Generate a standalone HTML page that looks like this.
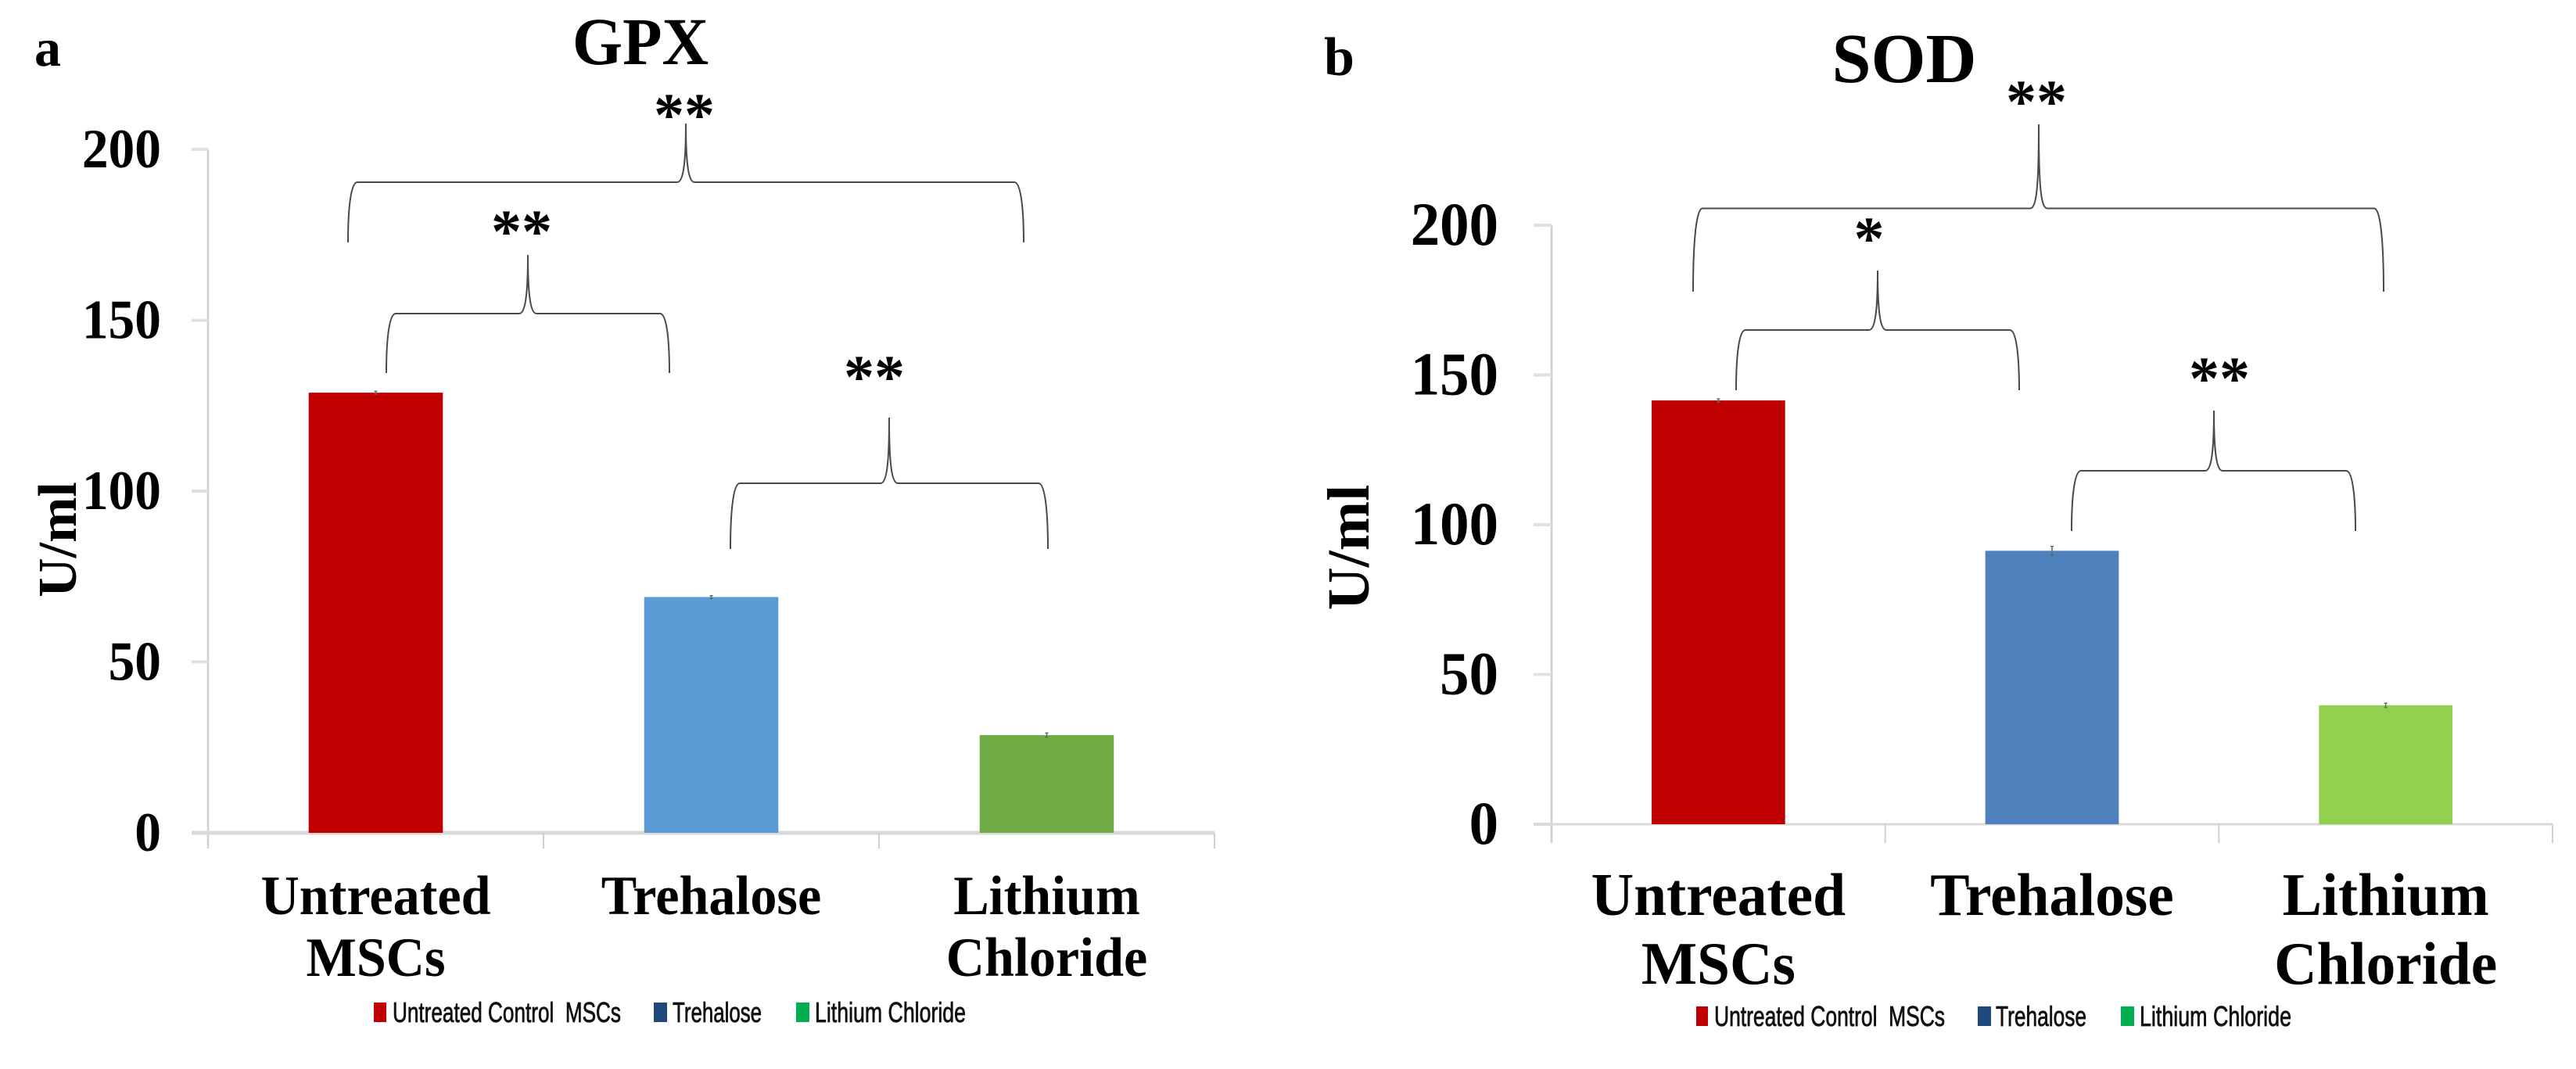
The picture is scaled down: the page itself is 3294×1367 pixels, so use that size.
<!DOCTYPE html>
<html lang="en">
<head>
<meta charset="utf-8">
<title>GPX and SOD activity</title>
<style>
html,body{margin:0;padding:0;background:#fff;}
svg{display:block;}
text{font-family:"Liberation Serif",serif;font-weight:bold;fill:#000;}
.lg{font-family:"Liberation Sans",sans-serif;font-weight:normal;font-size:36px;fill:#111;stroke:#111;stroke-width:.8px;white-space:pre;}
</style>
</head>
<body>
<svg id="figure" xmlns="http://www.w3.org/2000/svg" width="3294" height="1367" viewBox="0 0 3294 1367">
  <rect width="3294" height="1367" fill="#fff"/>
  <text x="44" y="84" font-size="68">a</text>
  <text x="1693" y="96" font-size="70">b</text>
  <text transform="translate(819,82) scale(.96,1)" text-anchor="middle" font-size="86">GPX</text>
  <text transform="translate(2435,105)" text-anchor="middle" font-size="90">SOD</text>
  <text transform="translate(97,690) rotate(-90)" text-anchor="middle" font-size="70">U/ml</text>
  <text transform="translate(1750,700) rotate(-90)" text-anchor="middle" font-size="76">U/ml</text>

  <text x="875" y="173" text-anchor="middle" font-size="78">**</text>
  <text x="667" y="322" text-anchor="middle" font-size="78">**</text>
  <text x="1118" y="508" text-anchor="middle" font-size="78">**</text>
  <text x="2604" y="156" text-anchor="middle" font-size="78">**</text>
  <text x="2390" y="331" text-anchor="middle" font-size="78">*</text>
  <text x="2838" y="510" text-anchor="middle" font-size="78">**</text>

  <g>
    <rect x="478" y="1282" width="16" height="25" fill="#c00000"/>
    <text class="lg" x="502" y="1307" textLength="292" lengthAdjust="spacingAndGlyphs">Untreated Control  MSCs</text>
    <rect x="836" y="1282" width="17" height="25" fill="#1f497d"/>
    <text class="lg" x="860" y="1307" textLength="114" lengthAdjust="spacingAndGlyphs">Trehalose</text>
    <rect x="1018" y="1282" width="17" height="25" fill="#00b050"/>
    <text class="lg" x="1042" y="1307" textLength="193" lengthAdjust="spacingAndGlyphs">Lithium Chloride</text>
  </g>
  <g>
    <rect x="2169" y="1287" width="15" height="25" fill="#c00000"/>
    <text class="lg" x="2192" y="1312" textLength="295" lengthAdjust="spacingAndGlyphs">Untreated Control  MSCs</text>
    <rect x="2529" y="1287" width="17" height="25" fill="#1f497d"/>
    <text class="lg" x="2552" y="1312" textLength="116" lengthAdjust="spacingAndGlyphs">Trehalose</text>
    <rect x="2712" y="1287" width="17" height="25" fill="#00b050"/>
    <text class="lg" x="2736" y="1312" textLength="194" lengthAdjust="spacingAndGlyphs">Lithium Chloride</text>
  </g>
</svg>
<script>
const categories = [["Untreated", "MSCs"], ["Trehalose"], ["Lithium", "Chloride"]];
const gpxValues = [128.8, 69, 28.6];
const gpxErrors = [0.4, 0.4, 0.6];
const sodValues = [141.5, 91.3, 39.7];
const sodErrors = [0.5, 1.5, 0.7];
const yTickLabels = [0, 50, 100, 150, 200];

const NS = 'http://www.w3.org/2000/svg';
const fig = document.getElementById('figure');

function make(tag, parent, attrs) {
  const n = document.createElementNS(NS, tag);
  for (const k in attrs) n.setAttribute(k, attrs[k]);
  parent.appendChild(n);
  return n;
}

function drawPanel(p, values, errors) {
  const g = make('g', fig, {});
  
  
  const yScale = v => p.y0 - v * (p.y0 - p.yMax) / 200;
  const step = (p.xEnd - p.x0) / categories.length;
  const xCenter = i => p.x0 + (i + 0.5) * step;

  const yAxis = make('line', g, {x1: p.x0, x2: p.x0, y1: p.yMax, y2: p.axisBottom, stroke: '#d0d0d0', 'stroke-width': 2.5});
  
  

  yTickLabels.forEach(t => {
    const y = yScale(t);
    const tick = make('line', g, {x1: p.tickLeft, x2: p.x0, y1: y, y2: y, stroke: '#e0e0e0', 'stroke-width': 4});
    
    
    const lab = make('text', g, {transform: 'translate(' + p.labelRight + ',' + (y + p.tickDy) + ') scale(' + p.tickSx + ',1)', 'text-anchor': 'end', 'font-size': p.tickFont});
    lab.textContent = t;
    
    
  });

  const base = make('line', g, {x1: p.tickLeft, x2: p.xEnd, y1: p.y0, y2: p.y0, stroke: '#d9d9d9', 'stroke-width': p.baseWidth});
  
  

  for (let i = 1; i <= categories.length; i++) {
    const x = p.x0 + i * step;
    const tick = make('line', g, {x1: x, x2: x, y1: p.y0, y2: p.axisBottom, stroke: '#d0d0d0', 'stroke-width': 2});
    
    
  }

  values.forEach((v, i) => {
    const w = step * 0.4;
    const bar = make('rect', g, {x: xCenter(i) - w / 2, y: yScale(v), width: w, height: p.y0 - yScale(v), fill: p.colors[i]});
    
    
    const up = yScale(v + errors[i]);
    const dn = yScale(v - errors[i]);
    const err = make('path', g, {d: 'M' + (xCenter(i) - 2) + ' ' + up + 'H' + (xCenter(i) + 2) + 'M' + xCenter(i) + ' ' + up + 'V' + dn + 'M' + (xCenter(i) - 2) + ' ' + dn + 'H' + (xCenter(i) + 2), stroke: '#666', 'stroke-width': 1.5, fill: 'none'});
    
    
  });

  categories.forEach((lines, i) => {
    lines.forEach((line, j) => {
      const t = make('text', g, {transform: 'translate(' + xCenter(i) + ',' + p.catBase[j] + ') scale(' + p.catSx + ',1)', 'text-anchor': 'middle', 'font-size': p.catFont});
      t.textContent = line;
      
      
    });
  });
}

function drawBrace(name, xl, xr, xc, yTop, yMid, yEnd) {
  const d = 'M' + xl + ' ' + yEnd +
    'C' + xl + ' ' + (yEnd - (yEnd - yMid) * .6) + ' ' + (xl + 4) + ' ' + yMid + ' ' + (xl + 12) + ' ' + yMid +
    'H' + (xc - 11) +
    'C' + (xc - 3) + ' ' + yMid + ' ' + xc + ' ' + (yMid - 26) + ' ' + xc + ' ' + yTop +
    'C' + xc + ' ' + (yMid - 26) + ' ' + (xc + 3) + ' ' + yMid + ' ' + (xc + 11) + ' ' + yMid +
    'H' + (xr - 12) +
    'C' + (xr - 4) + ' ' + yMid + ' ' + xr + ' ' + (yEnd - (yEnd - yMid) * .6) + ' ' + xr + ' ' + yEnd;
  const b = make('path', fig, {d: d, fill: 'none', stroke: '#4a4a4a', 'stroke-width': 2});
  
  
}

drawPanel({name: 'gpx', x0: 266, xEnd: 1553, y0: 1065, yMax: 191, tickLeft: 245, axisBottom: 1085,
  labelRight: 206, tickDy: 23, tickFont: 71, tickSx: 0.95, baseWidth: 5,
  catBase: [1169, 1248], catFont: 71, catSx: 0.96,
  colors: ['#c00000', '#5b9bd5', '#70ad47']}, gpxValues, gpxErrors);

drawPanel({name: 'sod', x0: 1984, xEnd: 3264, y0: 1054, yMax: 288, tickLeft: 1961, axisBottom: 1078,
  labelRight: 1916, tickDy: 25, tickFont: 78, tickSx: 0.96, baseWidth: 3,
  catBase: [1170, 1258], catFont: 77, catSx: 0.98,
  colors: ['#c00000', '#4f81bd', '#92d050']}, sodValues, sodErrors);

drawBrace('gpx-brace-all', 445, 1309, 877, 158, 233, 310);
drawBrace('gpx-brace-untreated-trehalose', 494, 856, 675, 326, 401, 477);
drawBrace('gpx-brace-trehalose-lithium', 934, 1340, 1137, 534, 618, 702);
drawBrace('sod-brace-all', 2165, 3048, 2607, 159, 266.5, 373);
drawBrace('sod-brace-untreated-trehalose', 2220, 2582, 2401, 346, 422, 499);
drawBrace('sod-brace-trehalose-lithium', 2649, 3012, 2831, 525, 602, 679);
</script>
</body>
</html>
